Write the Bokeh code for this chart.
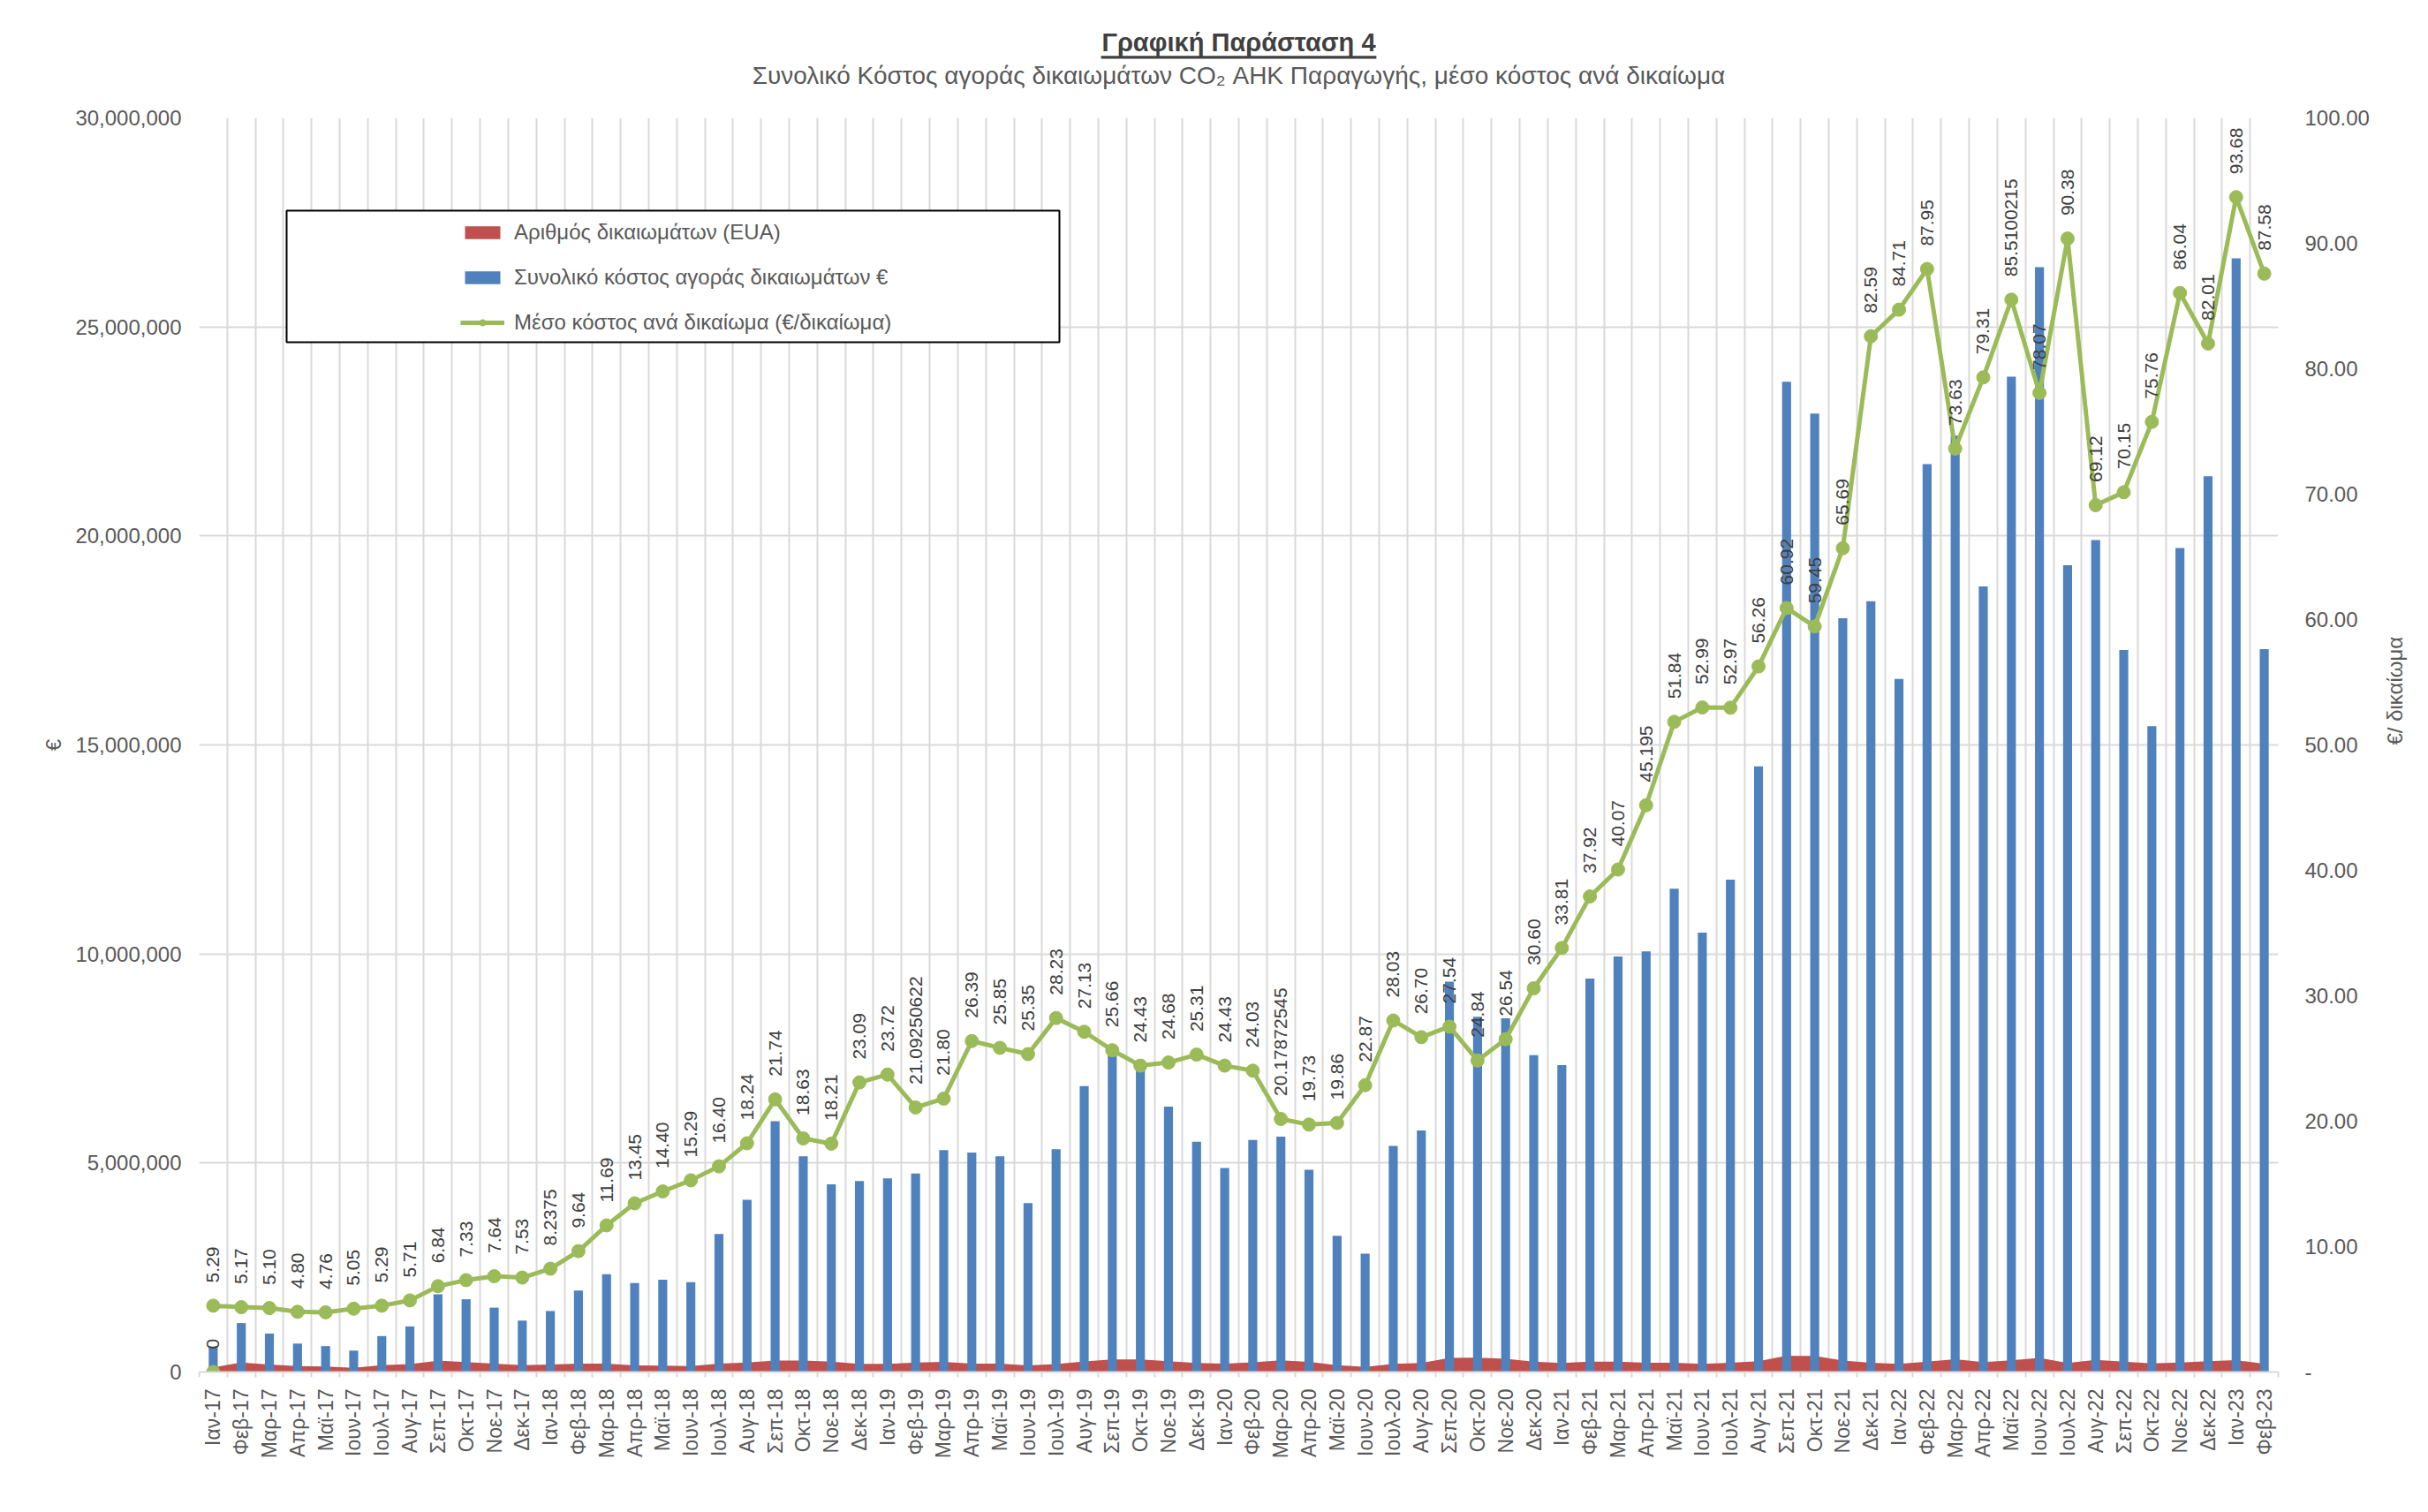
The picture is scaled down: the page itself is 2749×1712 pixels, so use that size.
import math
from bokeh.plotting import figure
from bokeh.models import (Range1d, LinearAxis, FixedTicker, NumeralTickFormatter, Title,
                          BoxAnnotation, Legend, LegendItem, ColumnDataSource)
from bokeh.embed import file_html
from bokeh.resources import INLINE
from bokeh.core.properties import value

# ---------------- data ----------------
months = [
    "Ιαν-17", "Φεβ-17", "Μαρ-17", "Απρ-17", "Μαϊ-17", "Ιουν-17", "Ιουλ-17", "Αυγ-17", "Σεπ-17", "Οκτ-17", "Νοε-17", "Δεκ-17",
    "Ιαν-18", "Φεβ-18", "Μαρ-18", "Απρ-18", "Μαϊ-18", "Ιουν-18", "Ιουλ-18", "Αυγ-18", "Σεπ-18", "Οκτ-18", "Νοε-18", "Δεκ-18",
    "Ιαν-19", "Φεβ-19", "Μαρ-19", "Απρ-19", "Μαϊ-19", "Ιουν-19", "Ιουλ-19", "Αυγ-19", "Σεπ-19", "Οκτ-19", "Νοε-19", "Δεκ-19",
    "Ιαν-20", "Φεβ-20", "Μαρ-20", "Απρ-20", "Μαϊ-20", "Ιουν-20", "Ιουλ-20", "Αυγ-20", "Σεπ-20", "Οκτ-20", "Νοε-20", "Δεκ-20",
    "Ιαν-21", "Φεβ-21", "Μαρ-21", "Απρ-21", "Μαϊ-21", "Ιουν-21", "Ιουλ-21", "Αυγ-21", "Σεπ-21", "Οκτ-21", "Νοε-21", "Δεκ-21",
    "Ιαν-22", "Φεβ-22", "Μαρ-22", "Απρ-22", "Μαϊ-22", "Ιουν-22", "Ιουλ-22", "Αυγ-22", "Σεπ-22", "Οκτ-22", "Νοε-22", "Δεκ-22",
    "Ιαν-23", "Φεβ-23",
]

# Συνολικό κόστος αγοράς δικαιωμάτων (€)
total_cost = [
    600000, 1170000, 920000, 680000, 620000, 510000, 860000, 1090000, 1860000, 1740000, 1540000, 1230000,
    1460000, 1950000, 2340000, 2130000, 2210000, 2150000, 3300000, 4120000, 6000000, 5160000, 4490000, 4570000,
    4630000, 4750000, 5310000, 5250000, 5160000, 4040000, 5330000, 6840000, 7700000, 7300000, 6350000, 5510000,
    4880000, 5550000, 5630000, 4840000, 3260000, 2830000, 5410000, 5780000, 9340000, 8500000, 8460000, 7580000,
    7340000, 9410000, 9940000, 10060000, 11560000, 10510000, 11780000, 14490000, 23690000, 22930000, 18030000, 18440000,
    16580000, 21720000, 22400000, 18790000, 23810000, 26430000, 19300000, 19900000, 17270000, 15450000, 19710000, 21430000,
    26640000, 17290000,
]

# Αριθμός δικαιωμάτων (EUA)
eua_count = [
    113000, 226000, 180000, 142000, 130000, 101000, 163000, 191000, 272000, 237000, 202000, 163000,
    177000, 202000, 200000, 158000, 153000, 141000, 201000, 226000, 276000, 277000, 247000, 198000,
    195000, 225000, 244000, 199000, 200000, 159000, 189000, 252000, 300000, 299000, 257000, 218000,
    200000, 231000, 279000, 245000, 164000, 124000, 193000, 216000, 339000, 342000, 319000, 248000,
    217000, 248000, 248000, 223000, 223000, 198000, 222000, 258000, 389000, 386000, 274000, 223000,
    196000, 247000, 304000, 237000, 278000, 339000, 214000, 288000, 246000, 204000, 229000, 261000,
    284000, 197000,
]

# Μέσο κόστος ανά δικαίωμα (€/δικαίωμα)
avg_cost = [
    5.29, 5.17, 5.10, 4.80, 4.76, 5.05, 5.29, 5.71, 6.84, 7.33, 7.64, 7.53,
    8.2375, 9.64, 11.69, 13.45, 14.40, 15.29, 16.40, 18.24, 21.74, 18.63, 18.21, 23.09,
    23.72, 21.09250622, 21.80, 26.39, 25.85, 25.35, 28.23, 27.13, 25.66, 24.43, 24.68, 25.31,
    24.43, 24.03, 20.17872545, 19.73, 19.86, 22.87, 28.03, 26.70, 27.54, 24.84, 26.54, 30.60,
    33.81, 37.92, 40.07, 45.195, 51.84, 52.99, 52.97, 56.26, 60.92, 59.45, 65.69, 82.59,
    84.71, 87.95, 73.63, 79.31, 85.5100215, 78.07, 90.38, 69.12, 70.15, 75.76, 86.04, 82.01,
    93.68, 87.58,
]

zero_point_value = [0]
left_ticks = [0, 5000000, 10000000, 15000000, 20000000, 25000000, 30000000]
right_ticks = [0, 10, 20, 30, 40, 50, 60, 70, 80, 90, 100]

series_names = ["Αριθμός δικαιωμάτων (EUA)",
                "Συνολικό κόστος αγοράς δικαιωμάτων €",
                "Μέσο κόστος ανά δικαίωμα (€/δικαίωμα)"]
title_text = "Γραφική Παράσταση 4"
subtitle_text = "Συνολικό Κόστος αγοράς δικαιωμάτων CO₂ ΑΗΚ Παραγωγής, μέσο κόστος ανά δικαίωμα"
left_axis_title = "€"
right_axis_title = "€/ δικαίωμα"


def fmt(v):
    return f"{v:.2f}" if round(v, 2) == v else repr(v)


n = len(months)
idx = list(range(n))
avg_labels = [fmt(v) for v in avg_cost]

FONT = "Liberation Sans"
GRID = "#D9D9D9"
TXT = "#595959"
RED = "#C0504D"
BLUE = "#4F81BD"
GREEN = "#9BBB59"

FW, FH = 2354, 1420

p = figure(frame_width=FW, frame_height=FH, title=None,
           min_border_left=225, min_border_right=162, min_border_top=133, min_border_bottom=151,
           x_range=Range1d(-0.5, n - 0.5), y_range=Range1d(0, 30000000),
           output_backend="svg", toolbar_location=None,
           background_fill_color="white", border_fill_color="white")
p.extra_y_ranges = {"avg": Range1d(0, 100)}
p.outline_line_color = None

# grids
boundaries = [i - 0.5 for i in range(n + 1)]
p.xgrid.ticker = FixedTicker(ticks=boundaries)
p.xgrid.grid_line_color = GRID
p.xgrid.grid_line_width = 2
p.ygrid.ticker = FixedTicker(ticks=left_ticks)
p.ygrid.grid_line_color = GRID
p.ygrid.grid_line_width = 2

# x axis
xa = p.xaxis[0]
xa.ticker = FixedTicker(ticks=idx, minor_ticks=boundaries)
xa.major_label_overrides = {i: m for i, m in enumerate(months)}
xa.axis_line_color = GRID
xa.axis_line_width = 2
xa.major_tick_in = 0
xa.major_tick_out = 0
xa.minor_tick_in = 0
xa.minor_tick_out = 6
xa.minor_tick_line_color = GRID
xa.minor_tick_line_width = 2
xa.major_label_orientation = math.pi / 2
xa.major_label_standoff = 13
xa.major_label_text_font = FONT
xa.major_label_text_font_size = "23px"
xa.major_label_text_color = TXT

# left y axis
ya = p.yaxis[0]
ya.ticker = FixedTicker(ticks=left_ticks)
ya.formatter = NumeralTickFormatter(format="0,0")
ya.axis_line_color = None
ya.major_tick_in = 0
ya.major_tick_out = 0
ya.minor_tick_in = 0
ya.minor_tick_out = 0
ya.major_label_standoff = 20
ya.major_label_text_font = FONT
ya.major_label_text_font_size = "24px"
ya.major_label_text_color = TXT
ya.axis_label = left_axis_title
ya.axis_label_standoff = 8
ya.axis_label_text_font = FONT
ya.axis_label_text_font_size = "24px"
ya.axis_label_text_font_style = "normal"
ya.axis_label_text_color = TXT

# right y axis
ra = LinearAxis(y_range_name="avg", ticker=FixedTicker(ticks=right_ticks),
                formatter=NumeralTickFormatter(format="0.00"))
ra.major_label_overrides = {0: "-"}
ra.axis_line_color = None
ra.major_tick_in = 0
ra.major_tick_out = 0
ra.minor_tick_in = 0
ra.minor_tick_out = 0
ra.major_label_standoff = 30
ra.major_label_text_font = FONT
ra.major_label_text_font_size = "24px"
ra.major_label_text_color = TXT
ra.axis_label = right_axis_title
ra.axis_label_standoff = 26
ra.axis_label_text_font = FONT
ra.axis_label_text_font_size = "24px"
ra.axis_label_text_font_style = "normal"
ra.axis_label_text_color = TXT
if "axis_label_orientation" in ra.properties():
    try:
        ra.axis_label_orientation = math.pi / 2
    except Exception:
        pass
p.add_layout(ra, "right")

# glyphs
src = ColumnDataSource(dict(x=idx, cost=total_cost, eua=eua_count, avg=avg_cost, lab=avg_labels))
r_area = p.varea(x="x", y1=0, y2="eua", source=src, fill_color=RED)
r_bar = p.vbar(x="x", top="cost", width=0.32, source=src, fill_color=BLUE, line_color=None)
r_line = p.line("x", "avg", source=src, y_range_name="avg", line_color=GREEN, line_width=5)
r_pts = p.scatter("x", "avg", source=src, y_range_name="avg", size=15,
                  fill_color=GREEN, line_color=GREEN)
p.text("x", "avg", text="lab", source=src, y_range_name="avg", angle=math.pi / 2,
       text_align="left", text_baseline="middle", y_offset=-26,
       text_font=value(FONT), text_font_size="21px", text_color="#404040")

zsrc = ColumnDataSource(dict(x=[0], y=zero_point_value, lab=[str(v) for v in zero_point_value]))
p.scatter("x", "y", source=zsrc, size=15, fill_color=GREEN, line_color=GREEN)
p.text("x", "y", text="lab", source=zsrc, angle=math.pi / 2,
       text_align="left", text_baseline="middle", y_offset=-26,
       text_font=value(FONT), text_font_size="21px", text_color="#404040")

# legend box
p.add_layout(BoxAnnotation(left=99, right=974, top=FH - 105, bottom=FH - 254,
                           left_units="screen", right_units="screen",
                           top_units="screen", bottom_units="screen",
                           fill_color="white", fill_alpha=1,
                           line_color="black", line_alpha=1, line_width=2))

legend = Legend(items=[LegendItem(label=series_names[0], renderers=[r_area]),
                       LegendItem(label=series_names[1], renderers=[r_bar]),
                       LegendItem(label=series_names[2], renderers=[r_line, r_pts])],
                location=(296, FH - 246), orientation="vertical",
                glyph_width=50, glyph_height=18, label_height=18, spacing=23,
                padding=0, margin=0, label_standoff=11,
                label_text_font=FONT, label_text_font_size="24px", label_text_color=TXT,
                border_line_color=None, background_fill_alpha=0)
p.add_layout(legend)

# titles (first added = closest to the plot)
sub_t = Title(text=subtitle_text, align="center", offset=-13, standoff=66,
              text_font=FONT, text_font_size="28px", text_font_style="normal",
              text_color=TXT)
main_t = Title(text=title_text, align="center", offset=-13, standoff=0,
               text_font=FONT, text_font_size="29px", text_font_style="bold",
               text_color="#404040")
# underline of the main title: a blank title strip with a dark background
underline_t = Title(text=" " * 374, align="center", offset=-13, standoff=0,
                    text_font=FONT, text_font_size="3px", text_color="#404040",
                    background_fill_color="#404040", background_fill_alpha=1)
try:
    main_t.standoff = -59
    underline_t.standoff = -64
except Exception:
    pass
p.add_layout(sub_t, "above")
p.add_layout(main_t, "above")
p.add_layout(underline_t, "above")

open("out.html", "w").write(file_html(p, INLINE))
